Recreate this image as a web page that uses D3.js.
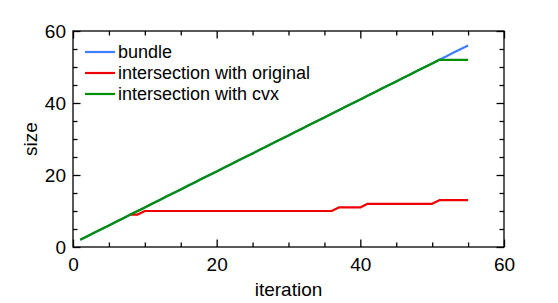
<!DOCTYPE html>
<html>
<head>
<meta charset="utf-8">
<script src="https://cdn.jsdelivr.net/npm/d3@7"></script>
<style>
  html, body { margin: 0; padding: 0; background: #fff; }
  svg { display: block; font-family: "Liberation Sans", Arial, Helvetica, sans-serif; }
</style>
</head>
<body>
<svg id="chart" width="558" height="303"></svg>
<script>
// ---- data ----
const bundleX = [1,2,3,4,5,6,7,8,9,10,11,12,13,14,15,16,17,18,19,20,21,22,23,24,25,26,27,28,29,30,31,32,33,34,35,36,37,38,39,40,41,42,43,44,45,46,47,48,49,50,51,52,53,54,55];
const bundleY = [2,3,4,5,6,7,8,9,10,11,12,13,14,15,16,17,18,19,20,21,22,23,24,25,26,27,28,29,30,31,32,33,34,35,36,37,38,39,40,41,42,43,44,45,46,47,48,49,50,51,52,53,54,55,56];
const cvxX = [1,2,3,4,5,6,7,8,9,10,11,12,13,14,15,16,17,18,19,20,21,22,23,24,25,26,27,28,29,30,31,32,33,34,35,36,37,38,39,40,41,42,43,44,45,46,47,48,49,50,51,52,53,54,55];
const cvxY = [2,3,4,5,6,7,8,9,10,11,12,13,14,15,16,17,18,19,20,21,22,23,24,25,26,27,28,29,30,31,32,33,34,35,36,37,38,39,40,41,42,43,44,45,46,47,48,49,50,51,52,52,52,52,52];
const origX = [8,9,
  10,11,12,13,14,15,16,17,18,19,
  20,21,22,23,24,25,26,27,28,29,
  30,31,32,33,34,35,36,
  37,38,39,40,
  41,42,43,44,45,46,47,48,49,50,
  51,52,53,54,55];
const origY = [9,9,
  10,10,10,10,10,10,10,10,10,10,
  10,10,10,10,10,10,10,10,10,10,
  10,10,10,10,10,10,10,
  11,11,11,11,
  12,12,12,12,12,12,12,12,12,12,
  13,13,13,13,13];

const seriesNames = ["bundle", "intersection with original", "intersection with cvx"];
const seriesColors = ["#3d7fff", "#f00000", "#008f00"];
const xMajorTicks = [0, 20, 40, 60];
const yMajorTicks = [0, 20, 40, 60];
const xMinorTicks = [5,10,15,25,30,35,45,50,55];
const yMinorTicks = [5,10,15,25,30,35,45,50,55];

// ---- layout ----
const svg = d3.select("#chart");
const L = 73, R = 504, T = 31, B = 247;
const x = d3.scaleLinear().domain([0, 60]).range([L, R]);
const y = d3.scaleLinear().domain([0, 60]).range([B, T]);
const FS = 18;

function styleAxis(g) {
  g.select(".domain").remove();
  g.selectAll(".tick line").attr("stroke", "#000").attr("stroke-width", 1.3);
  g.selectAll("text").attr("font-size", 19).attr("fill", "#000")
    .attr("font-family", '"Liberation Sans", Arial, sans-serif');
}
const MAJ = 7.5, MIN = 4.5;

// bottom
svg.append("g").attr("transform", `translate(0,${B})`)
  .call(d3.axisBottom(x).tickValues(xMajorTicks).tickSize(-MAJ).tickPadding(11).tickFormat(d3.format("d")))
  .call(styleAxis);
svg.append("g").attr("transform", `translate(0,${B})`)
  .call(d3.axisBottom(x).tickValues(xMinorTicks).tickSize(-MIN).tickFormat(""))
  .call(styleAxis);
// top
svg.append("g").attr("transform", `translate(0,${T})`)
  .call(d3.axisTop(x).tickValues(xMajorTicks).tickSize(-MAJ).tickFormat(""))
  .call(styleAxis);
svg.append("g").attr("transform", `translate(0,${T})`)
  .call(d3.axisTop(x).tickValues(xMinorTicks).tickSize(-MIN).tickFormat(""))
  .call(styleAxis);
// left
svg.append("g").attr("transform", `translate(${L},0)`)
  .call(d3.axisLeft(y).tickValues(yMajorTicks).tickSize(-MAJ).tickPadding(7).tickFormat(d3.format("d")))
  .call(styleAxis);
svg.append("g").attr("transform", `translate(${L},0)`)
  .call(d3.axisLeft(y).tickValues(yMinorTicks).tickSize(-MIN).tickFormat(""))
  .call(styleAxis);
// right
svg.append("g").attr("transform", `translate(${R},0)`)
  .call(d3.axisRight(y).tickValues(yMajorTicks).tickSize(-MAJ).tickFormat(""))
  .call(styleAxis);
svg.append("g").attr("transform", `translate(${R},0)`)
  .call(d3.axisRight(y).tickValues(yMinorTicks).tickSize(-MIN).tickFormat(""))
  .call(styleAxis);

// frame
svg.append("rect").attr("x", L).attr("y", T).attr("width", R - L).attr("height", B - T)
  .attr("fill", "none").attr("stroke", "#000").attr("stroke-width", 1.3);

// lines
const line = d3.line().x(d => x(d[0])).y(d => y(d[1]));
const series = [
  bundleX.map((v, i) => [v, bundleY[i]]),
  origX.map((v, i) => [v, origY[i]]),
  cvxX.map((v, i) => [v, cvxY[i]])
];
series.forEach((s, i) => {
  svg.append("path").datum(s).attr("d", line)
    .attr("fill", "none").attr("stroke", seriesColors[i]).attr("stroke-width", 2.2)
    .attr("stroke-linejoin", "round");
});

// legend
const legend = svg.append("g");
seriesNames.forEach((name, i) => {
  const ly = 52 + i * 21;
  legend.append("line").attr("x1", 85).attr("x2", 115).attr("y1", ly).attr("y2", ly)
    .attr("stroke", seriesColors[i]).attr("stroke-width", 2.2);
  legend.append("text").attr("x", 118).attr("y", ly + 6).attr("font-size", FS)
    .attr("fill", "#000").text(name);
});

// axis titles
svg.append("text").attr("x", (L + R) / 2).attr("y", 296).attr("text-anchor", "middle")
  .attr("font-size", 19).attr("fill", "#000").text("iteration");
svg.append("text").attr("transform", `translate(37,${(T + B) / 2}) rotate(-90)`)
  .attr("text-anchor", "middle").attr("font-size", 19).attr("fill", "#000").text("size");
</script>
</body>
</html>
